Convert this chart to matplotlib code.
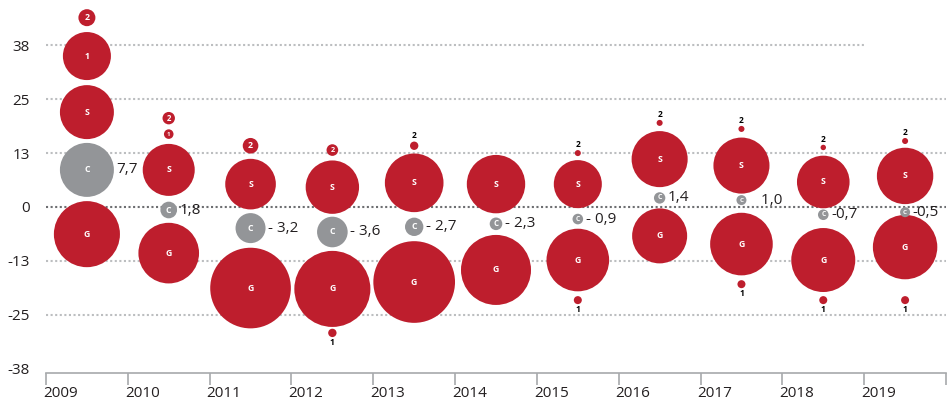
import numpy as np
import matplotlib
matplotlib.use("Agg")
import matplotlib.pyplot as plt
from matplotlib.transforms import ScaledTranslation, offset_copy

plt.rcParams['font.family'] = ['Open Sans', 'DejaVu Sans']

nan = np.nan
years = ['2009', '2010', '2011', '2012', '2013', '2014', '2015', '2016', '2017', '2018', '2019']

# bubble centre values (y) and bubble radii (in y units)
g_val = [-6.3, -10.7, -18.8, -19.0, -17.4, -14.6, -12.3, -6.7, -8.6, -12.3, -9.3]
g_size = [7.66, 7.03, 9.35, 8.82, 9.47, 8.12, 7.26, 6.38, 7.26, 7.42, 7.47]
s_val = [22.0, 8.6, 5.3, 4.6, 5.6, 5.3, 5.3, 11.1, 9.6, 5.8, 7.2]
s_size = [6.26, 6.03, 5.87, 6.19, 6.80, 6.77, 5.57, 6.50, 6.50, 6.10, 6.54]
c_val = [8.6, -0.7, -4.9, -5.8, -4.6, -3.9, -2.8, 2.1, 1.6, -1.8, -1.2]
c_size = [6.26, 1.93, 3.48, 3.55, 2.13, 1.46, 1.23, 1.32, 1.16, 1.23, 1.16]
c_text = ['7,7', '1,8', '- 3,2', '- 3,6', '- 2,7', '- 2,3', '- 0,9', '1,4', '   1,0', '-0,7', '-0,5']
one_val = [35.0, 16.9, nan, -29.2, nan, nan, -21.6, nan, -17.9, -21.6, -21.6]
one_size = [5.57, 1.11, nan, 0.97, nan, nan, 0.93, nan, 0.93, 0.93, 0.93]
two_val = [43.9, 20.6, 14.2, 13.2, 14.2, nan, 12.5, 19.5, 18.1, 13.8, 15.3]
two_size = [1.97, 1.44, 1.81, 1.35, 0.97, nan, 0.70, 0.70, 0.70, 0.63, 0.70]

y_ticks = [-37.5, -25, -12.5, 0, 12.5, 25, 37.5]
y_tick_labels = ['-38', '-25', '-13', '0', '13', '25', '38']

RED = '#be1e2d'
GREY = '#939598'
GRID = '#bcbec0'

W, H, DPI = 9.47, 4.03, 100
fig = plt.figure(figsize=(W, H), dpi=DPI)
left_px, right_px, bottom_px, top_px = 46, 946, 373, 0
ax = fig.add_axes([left_px / 947, (403 - bottom_px) / 403,
                   (right_px - left_px) / 947, (bottom_px - top_px) / 403])
ymin, ymax = -38.5, 48.0
ax.set_ylim(ymin, ymax)
ax.set_xlim(-0.5, len(years) - 0.5)

ax_h_pt = (bottom_px - top_px) * 72 / DPI
pt_per_unit = ax_h_pt / (ymax - ymin)

# grid lines
dots = (0, (1.0, 1.2))
for yt in y_ticks:
    if yt == 0:
        ax.axhline(0, color='#6d6e71', lw=1.5, ls=dots, zorder=1)
    elif yt == 37.5:
        ax.axhline(yt, xmin=0, xmax=(866 - 46) / 900, color=GRID, lw=1.5,
                   ls=dots, zorder=1)
    elif yt > -37:
        ax.axhline(yt, color=GRID, lw=1.5, ls=dots, zorder=1)

x = np.arange(len(years))


def bubbles(vals, sizes, color, letter, kind):
    vals = np.asarray(vals, float)
    sizes = np.asarray(sizes, float)
    m = ~np.isnan(vals)
    d_pt = 2 * sizes[m] * pt_per_unit
    ax.scatter(x[m], vals[m], s=d_pt ** 2, color=color, linewidths=0, zorder=3)
    for xi, v, r in zip(x[m], vals[m], sizes[m]):
        r_pt = r * pt_per_unit
        r_px = r_pt * DPI / 72
        if r >= 1.05:
            fs = min(6.3, 0.9 * r_px)
            ax.text(xi, v, letter, color='white', fontsize=fs, fontweight='bold',
                    ha='center', va='center', zorder=4)
        else:
            if kind == 'above':
                tr = offset_copy(ax.transData, fig=fig, x=0, y=r_pt + 0.8, units='points')
                ax.text(xi, v, letter, color='black', fontsize=6, fontweight='bold',
                        ha='center', va='bottom', transform=tr, zorder=4)
            else:
                tr = offset_copy(ax.transData, fig=fig, x=0, y=-(r_pt + 0.8), units='points')
                ax.text(xi, v, letter, color='black', fontsize=6, fontweight='bold',
                        ha='center', va='top', transform=tr, zorder=4)


bubbles(g_val, g_size, RED, 'G', 'in')
bubbles(s_val, s_size, RED, 'S', 'in')
bubbles(c_val, c_size, GREY, 'C', 'in')
bubbles(one_val, one_size, RED, '1', 'below')
bubbles(two_val, two_size, RED, '2', 'above')

# value labels for C
for xi, v, r, t in zip(x, c_val, c_size, c_text):
    tr = offset_copy(ax.transData, fig=fig, x=r * pt_per_unit + 1.8, y=0, units='points')
    ax.text(xi, v, t, color='#231f20', fontsize=11, ha='left', va='center',
            transform=tr, zorder=4)

# axes styling
for sp in ['top', 'right', 'left']:
    ax.spines[sp].set_visible(False)
ax.spines['bottom'].set_color('#a7a9ac')
ax.spines['bottom'].set_linewidth(1.2)

ax.set_yticks(y_ticks)
ax.set_yticklabels(y_tick_labels)
ax.tick_params(axis='y', length=0, pad=11.5, labelsize=11, labelcolor='#231f20')

ax.set_xticks(np.arange(len(years) + 1) - 0.5)
ax.set_xticklabels(years + [''])
ax.tick_params(axis='x', length=8.6, width=1.2, color='#a7a9ac', pad=1.0,
               labelsize=11, labelcolor='#231f20')
shift = ScaledTranslation(-3 / DPI, 0, fig.dpi_scale_trans)
for lab in ax.get_xticklabels():
    lab.set_horizontalalignment('left')
    lab.set_transform(lab.get_transform() + shift)

fig.savefig('out.png', dpi=DPI)
